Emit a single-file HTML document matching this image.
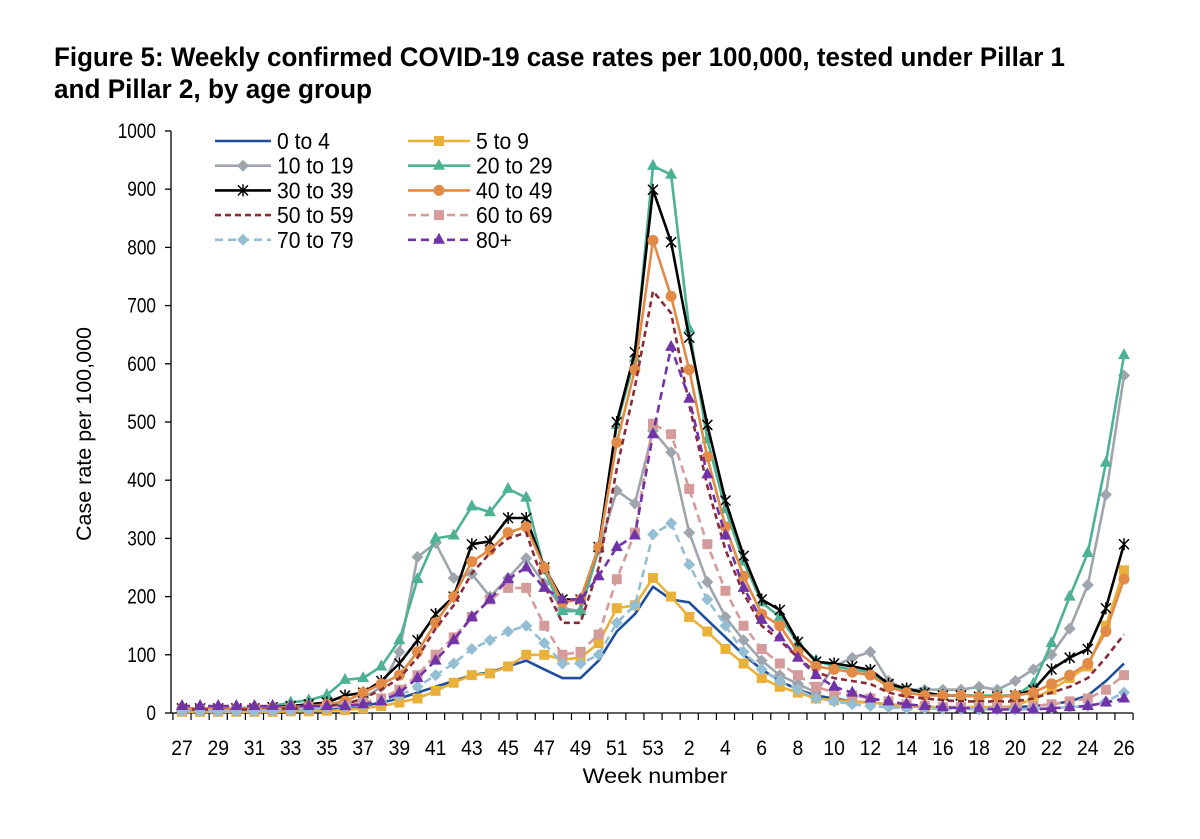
<!DOCTYPE html>
<html><head><meta charset="utf-8"><style>
body{margin:0;background:#fff;width:1200px;height:834px;overflow:hidden;font-family:"Liberation Sans",Arial,sans-serif}
</style></head><body>
<svg id="chart" width="1200" height="834" xmlns="http://www.w3.org/2000/svg" font-family="Liberation Sans, Arial, sans-serif">
<text x="54" y="66" font-size="27" font-weight="bold" textLength="1011" lengthAdjust="spacingAndGlyphs">Figure 5: Weekly confirmed COVID-19 case rates per 100,000, tested under Pillar 1</text>
<text x="54" y="98" font-size="27" font-weight="bold" textLength="318" lengthAdjust="spacingAndGlyphs">and Pillar 2, by age group</text>
<text transform="translate(91,434) rotate(-90)" text-anchor="middle" font-size="21" textLength="214" lengthAdjust="spacingAndGlyphs">Case rate per 100,000</text>
<text x="655" y="783" text-anchor="middle" font-size="21" textLength="145" lengthAdjust="spacingAndGlyphs">Week number</text>
<g id="axes"></g><g id="series"></g><g id="legend"></g>
</svg>
<script>
const weeks=[27,28,29,30,31,32,33,34,35,36,37,38,39,40,41,42,43,44,45,46,47,48,49,50,51,52,53,1,2,3,4,5,6,7,8,9,10,11,12,13,14,15,16,17,18,19,20,21,22,23,24,25,26];
const yTicks=[0,100,200,300,400,500,600,700,800,900,1000];
const names=["0 to 4","5 to 9","10 to 19","20 to 29","30 to 39","40 to 49","50 to 59","60 to 69","70 to 79","80+"];
const s0to4=[3,3,3,3,3,4,4,5,6,8,12,18,25,35,45,55,65,70,80,90,75,60,60,90,140,170,217,195,190,160,130,100,75,55,40,30,25,20,18,15,12,10,10,10,10,10,10,12,15,20,30,55,85];
const s5to9=[2,2,2,2,2,2,3,3,4,5,8,12,18,25,38,52,65,68,80,100,100,92,95,120,180,185,232,200,165,140,110,85,60,45,35,25,22,20,18,15,12,10,10,10,10,10,12,25,40,60,80,150,245];
const s10to19=[5,5,5,6,6,7,8,10,12,15,25,45,105,268,292,232,239,200,232,266,222,180,175,280,382,360,485,448,310,225,165,125,90,65,50,35,80,95,105,55,40,40,40,40,45,40,55,75,100,145,220,375,580];
const s20to29=[8,8,8,8,10,12,18,22,31,57,60,80,125,230,300,305,355,345,385,370,246,175,175,285,495,610,940,925,660,470,350,260,190,165,120,90,80,75,70,45,40,35,30,30,30,30,30,50,120,200,275,430,615];
const s30to39=[8,8,8,8,8,10,12,15,18,30,35,55,85,125,170,200,290,295,335,335,250,195,195,285,500,620,899,809,645,495,365,270,195,177,122,88,85,80,74,50,42,35,30,30,28,28,30,40,75,95,110,180,290];
const s40to49=[8,8,8,8,8,9,10,12,15,20,35,50,65,105,155,200,260,280,310,320,250,190,195,285,465,590,812,716,590,440,320,235,170,150,105,80,75,70,65,45,35,30,30,30,28,28,30,35,50,65,85,140,230];
const s50to59=[6,6,6,6,6,7,8,10,12,15,25,40,60,95,145,185,240,275,300,310,220,155,155,250,420,560,725,687,530,390,280,205,150,125,95,70,60,55,50,35,28,25,22,20,20,20,20,25,35,45,60,95,135];
const s60to69=[5,5,5,5,5,5,6,8,10,12,18,25,40,65,100,130,165,195,215,215,150,100,105,135,230,310,497,479,385,290,210,150,110,85,65,45,35,30,25,20,15,12,10,10,10,10,10,12,15,20,25,40,65];
const s70to79=[3,3,3,3,3,4,5,6,8,10,14,20,30,45,65,85,110,125,140,150,120,85,85,100,155,185,307,326,255,195,150,105,75,55,40,25,20,15,12,10,8,8,7,7,6,6,6,7,8,10,12,20,35];
const s80plus=[12,12,12,12,12,12,12,12,12,12,15,20,35,60,90,125,165,195,230,250,215,195,195,235,285,305,479,629,540,410,305,215,160,130,95,65,45,35,25,20,15,12,10,8,8,6,6,6,8,10,12,18,25];
const allSeries=[s0to4,s5to9,s10to19,s20to29,s30to39,s40to49,s50to59,s60to69,s70to79,s80plus];
const colors=["#1f4e9c","#e9b13a","#9ea5ac","#4db294","#000000","#e18b46","#8a2b38","#d59b9b","#94bed4","#7134a8"];
const dashes=["","","","","","","6,4","8,5","8,5","8,5"];
const markers=["none","square","diamond","triangle","star","circle","none","square","diamond","triangle"];
const NS="http://www.w3.org/2000/svg";
const X0=182,DX=(1124-182)/52,Y0=713,KY=0.582;
const xs=i=>X0+DX*i, ys=v=>Y0-KY*v;
function mk(t,a,p){const e=document.createElementNS(NS,t);for(const k in a)e.setAttribute(k,a[k]);p.appendChild(e);return e;}
function condense(el,f){const w=el.getComputedTextLength();el.setAttribute('textLength',(w*f).toFixed(1));el.setAttribute('lengthAdjust','spacingAndGlyphs');}
const axes=document.getElementById('axes');
const yax=mk('line',{x1:171,y1:ys(1000),x2:171,y2:Y0,stroke:'#000','stroke-width':1.3},axes);


const xax=mk('line',{x1:171,y1:Y0,x2:1133,y2:Y0,stroke:'#000','stroke-width':1.3},axes);


yTicks.forEach(v=>{
 mk('line',{x1:165,y1:ys(v),x2:171,y2:ys(v),stroke:'#000','stroke-width':1.3},axes);
 const t=mk('text',{x:156,y:ys(v)+7,'text-anchor':'end','font-size':21},axes);t.textContent=v;
 
 
 condense(t,0.82);
});
for(let i=0;i<=weeks.length;i++){const x=X0+DX*(i-0.5);mk('line',{x1:x,y1:Y0,x2:x,y2:Y0+7,stroke:'#000','stroke-width':1.2},axes);}
weeks.forEach((w,i)=>{if(i%2===0){const t=mk('text',{x:xs(i),y:755,'text-anchor':'middle','font-size':21},axes);t.textContent=w;
 
 
 condense(t,0.92);}});
function marker(type,x,y,c,g){
 if(type==='square')mk('rect',{x:x-5,y:y-5,width:10,height:10,fill:c},g);
 else if(type==='diamond')mk('polygon',{points:`${x},${y-6} ${x+6},${y} ${x},${y+6} ${x-6},${y}`,fill:c},g);
 else if(type==='triangle')mk('polygon',{points:`${x},${y-7} ${x+6},${y+4} ${x-6},${y+4}`,fill:c},g);
 else if(type==='circle')mk('circle',{cx:x,cy:y,r:5.5,fill:c},g);
 else if(type==='star'){mk('path',{d:`M${x-5} ${y-5}L${x+5} ${y+5}M${x-5} ${y+5}L${x+5} ${y-5}M${x} ${y-6}L${x} ${y+6}`,stroke:c,'stroke-width':1.5,fill:'none'},g);}
}
const sg=document.getElementById('series');
allSeries.forEach((d,k)=>{
 const g=mk('g',{},sg);
 
 
 const pts=d.map((v,i)=>xs(i).toFixed(1)+','+ys(v).toFixed(1)).join(' ');
 const a={points:pts,fill:'none',stroke:colors[k],'stroke-width':2.6,'stroke-linejoin':'round'};
 if(dashes[k])a['stroke-dasharray']=dashes[k];
 mk('polyline',a,g);
 if(markers[k]!=='none')d.forEach((v,i)=>marker(markers[k],xs(i),ys(v),colors[k],g));
});
const lg=document.getElementById('legend');
names.forEach((n,k)=>{
 const col=k%2,row=Math.floor(k/2);
 const x1=col?408:215,x2=col?470:271,y=141+row*24.7;
 const g=mk('g',{},lg);
 
 
 const a={x1:x1,y1:y,x2:x2,y2:y,stroke:colors[k],'stroke-width':2.6};
 if(dashes[k])a['stroke-dasharray']=dashes[k];
 mk('line',a,g);
 if(markers[k]!=='none')marker(markers[k],(x1+x2)/2,y,colors[k],g);
 const t=mk('text',{x:x2+6,y:y+8,'font-size':23},g);t.textContent=n;
 condense(t,0.92);
});
</script>
</body></html>
